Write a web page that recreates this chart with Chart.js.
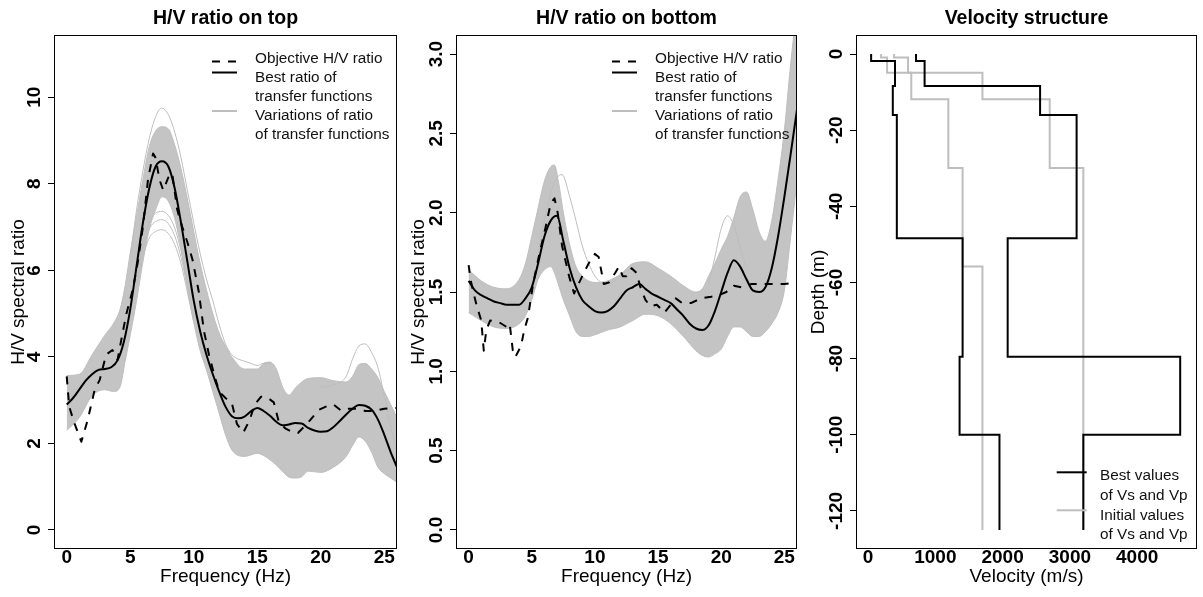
<!DOCTYPE html>
<html>
<head>
<meta charset="utf-8">
<title>H/V ratio and velocity structure</title>
<script src="https://cdn.jsdelivr.net/npm/chart.js@4.4.0/dist/chart.umd.min.js"></script>
<style>
  body { margin: 0; background: #fff; }
  #wrap { position: relative; width: 1203px; height: 597px; }
  canvas { position: absolute; top: 0; }
</style>
</head>
<body>
<div id="wrap">
  <canvas id="top" width="400" height="597" style="left:0"></canvas>
  <canvas id="bottom" width="400" height="597" style="left:400px"></canvas>
  <canvas id="vel" width="403" height="597" style="left:800px"></canvas>
</div>
<script>
// ---- tick labels ----
const freqTicks = [0, 5, 10, 15, 20, 25];
const topYTicks = [0, 2, 4, 6, 8, 10];
const bottomYTicks = [0, 0.5, 1, 1.5, 2, 2.5, 3];
const velTicks = [0, 1000, 2000, 3000, 4000];
const depthTicks = [0, -20, -40, -60, -80, -100, -120];

// ---- H/V ratio on top ----
const topObjF = [0,0.2,0.6,1.15,1.65,2.2,2.6,3.1,3.6,4.0,4.3,4.7,5.2,5.6,6.0,6.4,6.8,7.0,7.3,7.6,8.0,8.3,8.7,9.1,9.5,9.9,10.4,10.8,11.2,11.6,12.0,12.5,13.0,13.4,13.9,14.4,14.8,15.3,15.8,16.3,16.7,17.2,17.7,18.2,18.7,19.2,19.8,20.4,21.0,21.6,22.2,22.9,23.5,24.2,25.0,25.8,26];
const topObjV = [3.55,2.85,2.47,2.04,2.54,3.24,3.47,4.05,4.16,3.93,4.4,5.0,5.55,6.2,7.0,8.1,8.7,8.6,8.1,7.85,8.15,8.25,7.4,7.0,6.65,6.25,5.5,4.6,4.05,3.6,3.2,3.05,2.93,2.45,2.25,2.54,2.9,3.08,3.06,2.95,2.5,2.35,2.27,2.24,2.39,2.55,2.77,2.85,2.9,2.76,2.8,2.8,2.75,2.75,2.8,2.82,2.82];

const topBestF = [0,0.5,1,1.5,2,2.5,3,3.5,4,4.5,5,5.5,6,6.5,7,7.5,8,8.5,9,9.5,10,10.5,11,11.5,12,12.5,13,13.5,14,14.5,15,15.5,16,16.5,17,17.5,18,18.5,19,19.5,20,20.5,21,21.5,22,22.5,23,23.5,24,24.5,25,25.5,26];
const topBestV = [2.9,3.05,3.25,3.45,3.6,3.7,3.72,3.76,3.92,4.35,5.1,6.1,7.1,7.9,8.4,8.52,8.4,7.9,7.1,6.2,5.3,4.6,4.05,3.6,3.2,2.85,2.63,2.58,2.62,2.74,2.82,2.75,2.64,2.5,2.42,2.44,2.47,2.46,2.36,2.3,2.27,2.28,2.38,2.52,2.67,2.8,2.89,2.87,2.78,2.55,2.2,1.8,1.45];

const topBandF = [0,1,2,3,3.7,4.2,4.6,5,5.5,6,6.5,7,7.5,8,8.5,9,9.5,10,10.5,11,11.5,12,12.5,13,14,15,15.5,16,16.5,17,17.5,18,18.5,19,20,21,22,22.5,23,23.5,24,24.5,25,25.5,26];
const topBandHi = [3.57,3.6,4.05,4.5,4.78,5.1,5.65,6.4,7.25,8.1,8.86,9.22,9.32,9.27,8.9,8.35,7.65,6.9,6.17,5.55,5.0,4.55,4.25,4.0,3.72,3.72,3.85,3.88,3.72,3.3,3.12,3.28,3.42,3.5,3.52,3.45,3.42,3.55,3.82,3.85,3.72,3.52,3.2,2.9,2.6];
const topBandLo = [2.3,2.6,3.1,3.24,3.2,3.31,3.9,4.5,5.3,6.2,6.95,7.4,7.7,7.6,7.2,6.5,5.6,4.8,4.15,3.7,3.2,2.7,2.2,1.85,1.7,1.77,1.72,1.62,1.5,1.35,1.22,1.2,1.23,1.36,1.33,1.45,1.7,1.95,2.15,2.05,1.8,1.45,1.3,1.2,1.1];

const topLowF = [5.5,6,6.5,7,7.5,8,8.5,9,9.5,10];
const topLowA = [5.6,6.3,6.75,6.9,6.94,6.85,6.6,6.15,5.5,4.8];
const topLowB = [5.7,6.45,6.95,7.13,7.17,7.08,6.8,6.3,5.6,4.85];
const topLowC = [5.8,6.6,7.1,7.32,7.36,7.27,6.98,6.45,5.7,4.9];
const topPeakOutF = [5,5.5,6,6.5,7,7.45,8,8.5,9,9.5,10,10.5,11,11.5,12,12.5,13,13.5,14,14.5,15,15.5,16];
const topPeakOutV = [6.3,7.4,8.3,9.05,9.55,9.75,9.6,9.2,8.6,7.85,7.1,6.4,5.8,5.3,4.75,4.3,4.05,3.95,3.9,3.85,3.8,3.85,3.85];
const topRightOutF = [20,21,22,22.5,23,23.5,24,24.5,25,25.5,26];
const topRightOutV = [3.3,3.35,3.55,3.95,4.25,4.3,4.1,3.75,3.1,2.4,1.8];

// ---- H/V ratio on bottom ----
const botObjF = [0,0.15,0.4,0.65,1.0,1.2,1.4,1.7,2.4,3.0,3.25,3.5,3.7,4.15,4.4,4.7,5.1,5.6,6.1,6.5,6.8,7.05,7.4,7.95,8.35,8.7,9.0,9.5,10.0,10.3,10.7,11.1,11.6,11.9,12.2,12.5,12.9,13.3,13.6,14.0,14.4,14.9,15.5,16.0,16.4,16.9,17.6,18.4,19.2,19.8,20.4,21.0,21.6,22.4,23.2,24.0,25.0,26];
const botObjV = [1.67,1.58,1.49,1.41,1.32,1.13,1.26,1.32,1.31,1.28,1.30,1.13,1.09,1.16,1.26,1.34,1.55,1.74,1.91,2.06,2.09,2.0,1.79,1.6,1.49,1.55,1.6,1.68,1.74,1.72,1.55,1.56,1.62,1.66,1.6,1.6,1.65,1.62,1.53,1.45,1.41,1.42,1.37,1.42,1.46,1.43,1.43,1.46,1.47,1.48,1.5,1.54,1.53,1.55,1.55,1.55,1.55,1.56];

const botBestF = [0,0.5,1,1.5,2,2.5,3,3.5,4,4.5,5,5.5,6,6.5,7,7.5,8,8.5,9,9.5,10,10.5,11,11.5,12,12.5,13,13.5,14,14.5,15,15.5,16,16.5,17,17.5,18,18.5,19,19.5,20,20.5,21,21.5,22,22.5,23,23.5,24,24.5,25,25.5,26];
const botBestV = [1.57,1.51,1.48,1.46,1.44,1.43,1.42,1.42,1.42,1.46,1.53,1.68,1.85,1.95,1.98,1.82,1.65,1.53,1.45,1.41,1.38,1.37,1.38,1.41,1.46,1.51,1.53,1.55,1.52,1.49,1.47,1.45,1.43,1.39,1.35,1.30,1.27,1.26,1.29,1.38,1.50,1.62,1.70,1.66,1.58,1.51,1.50,1.53,1.65,1.85,2.10,2.37,2.65];

const botBandF = [0,1,2,3,4,4.5,5,5.5,6,6.5,6.8,7.1,7.5,8,8.5,9,9.5,10,11,12,13,14,15,16,17,18,18.5,19,19.5,20,20.5,21,21.5,22,22.5,23,23.5,24,24.5,25,25.5,26];
const botBandHi = [1.64,1.57,1.53,1.52,1.58,1.68,1.85,2.03,2.2,2.29,2.3,2.2,2.0,1.8,1.66,1.6,1.57,1.56,1.57,1.61,1.68,1.69,1.65,1.6,1.54,1.5,1.52,1.6,1.68,1.77,1.85,1.97,2.1,2.13,2.02,1.88,1.82,1.95,2.21,2.52,2.94,3.3];
const botBandLo = [1.37,1.32,1.28,1.27,1.30,1.35,1.45,1.58,1.64,1.66,1.62,1.55,1.45,1.35,1.25,1.22,1.22,1.23,1.26,1.28,1.32,1.36,1.35,1.3,1.22,1.13,1.1,1.09,1.11,1.14,1.22,1.28,1.28,1.25,1.22,1.22,1.25,1.3,1.37,1.51,1.85,2.2];

const botShiftOutF = [5.5,6,6.5,7,7.4,8,8.5,9,9.5,10,10.5,11,12,13];
const botShiftOutV = [1.75,1.95,2.12,2.22,2.24,2.1,1.95,1.79,1.68,1.6,1.56,1.55,1.6,1.66];
const botMidOutF = [19,19.5,20,20.5,21,21.5,22];
const botMidOutV = [1.55,1.72,1.9,1.98,1.92,1.78,1.65];

// ---- velocity structure ----
const bottomDepth = -125;
const bestDepth = [0, -1.8, -8.4, -16.0, -48.4, -79.5, -100.0];
const bestVs = [45, 400, 367, 427, 1405, 1360, 1953];
const bestVp = [712, 840, 2557, 3100, 2075, 4640, 3200];
const initDepth = [0, -0.9, -4.9, -11.9, -29.9, -55.8];
const initVs = [193, 282, 642, 1193, 1405, 1700];
const initVp = [386, 594, 1700, 2700, 3200, 3200];

// ---- styling ----
const FONT = '"Liberation Sans", Arial, sans-serif';
const GRAY = '#bebebe';
const BAND = '#c4c4c4';
const TICK_FONT = { family: FONT, size: 19, weight: 'bold' };
const AXIS_FONT = { family: FONT, size: 19 };

Chart.defaults.font.family = FONT;
Chart.defaults.color = '#000';

const measureCtx = document.createElement('canvas').getContext('2d');
function widestLabel(labels) {
  measureCtx.font = `normal bold ${TICK_FONT.size}px ${FONT}`;
  return Math.max(...labels.map(s => measureCtx.measureText(s).width));
}

const pts = (xs, ys) => xs.map((x, i) => ({ x, y: ys[i] }));

function line(xs, ys, color, width, extra) {
  return Object.assign({
    data: pts(xs, ys),
    borderColor: color,
    borderWidth: width,
    pointRadius: 0,
    fill: false,
    clip: 0,
    borderJoinStyle: 'round',
    cubicInterpolationMode: 'monotone'
  }, extra || {});
}

function profile(depths, vels, color) {
  const data = depths.map((d, i) => ({ x: vels[i], y: d }));
  data.push({ x: vels[vels.length - 1], y: bottomDepth });
  return { data, borderColor: color, borderWidth: 2, pointRadius: 0, fill: false, clip: 0, stepped: 'after' };
}

function yAxis(min, max, ticks, fmt, title, width) {
  const w = widestLabel(ticks.map(fmt));
  return {
    type: 'linear', position: 'left', min, max,
    afterBuildTicks: ax => { ax.ticks = ticks.map(v => ({ value: v })); },
    afterFit: ax => { ax.width = width; },
    grid: { drawOnChartArea: false, drawTicks: true, tickLength: 6, color: '#000' },
    border: { display: false },
    ticks: {
      autoSkip: false, minRotation: 90, maxRotation: 90, crossAlign: 'center',
      padding: 13 - w / 2, color: '#000', font: TICK_FONT, callback: v => fmt(v)
    },
    title: { display: true, text: title, color: '#000', font: AXIS_FONT, padding: { top: 7.1, bottom: 0 } }
  };
}

function xAxis(min, max, ticks, title) {
  return {
    type: 'linear', position: 'bottom', min, max,
    afterBuildTicks: ax => { ax.ticks = ticks.map(v => ({ value: v })); },
    afterFit: ax => { ax.height = 48; },
    grid: { drawOnChartArea: false, drawTicks: false },
    border: { display: false },
    ticks: { autoSkip: false, maxRotation: 0, padding: -3, color: '#000', font: TICK_FONT, callback: v => String(v) },
    title: { display: true, text: title, color: '#000', font: AXIS_FONT, padding: { top: 0, bottom: 8.6 } }
  };
}

// box round the plot region, like R's box()
const frame = {
  id: 'frame',
  afterDraw(chart) {
    const { ctx, chartArea: a } = chart;
    ctx.save();
    ctx.strokeStyle = '#000';
    ctx.lineWidth = 1;
    ctx.strokeRect(Math.round(a.left) + 0.5, Math.round(a.top) + 0.5,
      Math.round(a.right - a.left) - 1, Math.round(a.bottom - a.top) - 1);
    ctx.restore();
  }
};

// R style legend: samples and multi-line text, anchored to the plot's right edge
const rLegend = {
  id: 'rLegend',
  afterDraw(chart, args, opts) {
    const { ctx, chartArea } = chart;
    const r = chartArea.right;
    ctx.save();
    ctx.font = `15.3px ${FONT}`;
    ctx.fillStyle = '#111';
    ctx.textBaseline = 'alphabetic';
    ctx.textAlign = 'left';
    for (const t of opts.texts) ctx.fillText(t.text, r - opts.textDx, t.y);
    for (const s of opts.samples) {
      ctx.beginPath();
      ctx.strokeStyle = s.color;
      ctx.lineWidth = 2;
      ctx.setLineDash(s.dash || []);
      ctx.moveTo(r - opts.x0, s.y);
      ctx.lineTo(r - opts.x1, s.y);
      ctx.stroke();
    }
    ctx.restore();
  }
};

const hvLegend = {
  textDx: 142, x0: 185, x1: 160,
  texts: [
    { text: 'Objective H/V ratio', y: 62.7 },
    { text: 'Best ratio of', y: 81.7 },
    { text: 'transfer functions', y: 100.9 },
    { text: 'Variations of ratio', y: 120.2 },
    { text: 'of transfer functions', y: 139.3 }
  ],
  samples: [
    { y: 61.5, color: '#000', dash: [8, 8] },
    { y: 72.5, color: '#000' },
    { y: 111, color: GRAY }
  ]
};

function baseOptions(title, padRight, scales, legend) {
  return {
    responsive: false,
    animation: false,
    devicePixelRatio: 1,
    events: [],
    layout: { padding: { left: 0, right: padRight, top: 0, bottom: 0 } },
    plugins: {
      legend: { display: false },
      tooltip: { enabled: false },
      title: {
        display: true, text: title, fullSize: false, color: '#000',
        font: { family: FONT, size: 19.5, weight: 'bold' },
        padding: { top: 6.8, bottom: 4.8 }
      },
      rLegend: legend
    },
    scales
  };
}

new Chart(document.getElementById('top'), {
  type: 'line',
  data: {
    datasets: [
      line(topObjF, topObjV, '#000', 2, { borderDash: [8, 8], cubicInterpolationMode: 'default', tension: 0 }),
      line(topBestF, topBestV, '#000', 2),
      line(topLowF, topLowA, GRAY, 1),
      line(topLowF, topLowB, GRAY, 1),
      line(topLowF, topLowC, GRAY, 1),
      line(topPeakOutF, topPeakOutV, GRAY, 1),
      line(topRightOutF, topRightOutV, GRAY, 1),
      line(topBandF, topBandHi, GRAY, 1),
      line(topBandF, topBandLo, GRAY, 1, { fill: '-1', backgroundColor: BAND })
    ]
  },
  options: baseOptions('H/V ratio on top', 3, {
    x: xAxis(-1, 26, freqTicks, 'Frequency (Hz)'),
    y: yAxis(-0.44, 11.44, topYTicks, v => String(v), 'H/V spectral ratio', 54)
  }, hvLegend),
  plugins: [frame, rLegend]
});

new Chart(document.getElementById('bottom'), {
  type: 'line',
  data: {
    datasets: [
      line(botObjF, botObjV, '#000', 2, { borderDash: [8, 8], cubicInterpolationMode: 'default', tension: 0 }),
      line(botBestF, botBestV, '#000', 2),
      line(botShiftOutF, botShiftOutV, GRAY, 1),
      line(botMidOutF, botMidOutV, GRAY, 1),
      line(botBandF, botBandHi, GRAY, 1),
      line(botBandF, botBandLo, GRAY, 1, { fill: '-1', backgroundColor: BAND })
    ]
  },
  options: baseOptions('H/V ratio on bottom', 3, {
    x: xAxis(-1, 26, freqTicks, 'Frequency (Hz)'),
    y: yAxis(-0.12, 3.12, bottomYTicks, v => v.toFixed(1), 'H/V spectral ratio', 56)
  }, hvLegend),
  plugins: [frame, rLegend]
});

new Chart(document.getElementById('vel'), {
  type: 'line',
  data: {
    datasets: [
      profile(bestDepth, bestVs, '#000'),
      profile(bestDepth, bestVp, '#000'),
      profile(initDepth, initVs, GRAY),
      profile(initDepth, initVp, GRAY)
    ]
  },
  options: baseOptions('Velocity structure', 6, {
    x: xAxis(-180, 4890, velTicks, 'Velocity (m/s)'),
    y: yAxis(-130, 5, depthTicks, v => String(v), 'Depth (m)', 56)
  }, {
    textDx: 97, x0: 140.3, x1: 110.3,
    texts: [
      { text: 'Best values', y: 480 },
      { text: 'of Vs and Vp', y: 500 },
      { text: 'Initial values', y: 519.5 },
      { text: 'of Vs and Vp', y: 538.5 }
    ],
    samples: [
      { y: 472.3, color: '#000' },
      { y: 510.3, color: GRAY }
    ]
  }),
  plugins: [frame, rLegend]
});
</script>
</body>
</html>
